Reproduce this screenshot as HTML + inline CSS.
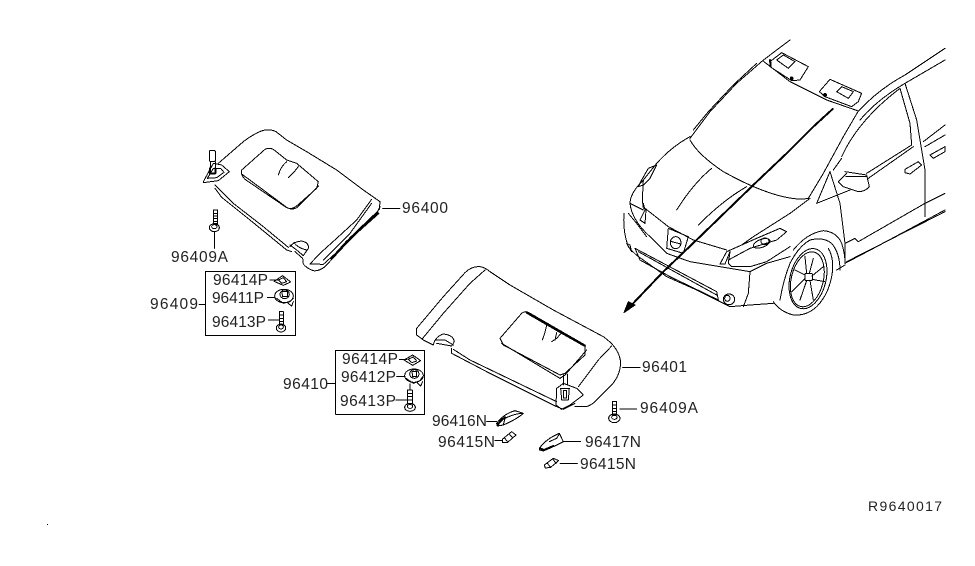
<!DOCTYPE html>
<html>
<head>
<meta charset="utf-8">
<style>
html,body{margin:0;padding:0;background:#fff;width:975px;height:566px;overflow:hidden}
svg{display:block}
.d *{vector-effect:non-scaling-stroke;fill:none;stroke:#000;stroke-width:1;stroke-linejoin:round;stroke-linecap:round;shape-rendering:crispEdges}
.d .t{stroke-width:2}
.d .b{fill:#000;stroke-width:1}
text{font-family:"Liberation Sans",sans-serif;font-size:15.5px;fill:#222}
</style>
</head>
<body>
<svg width="975" height="566" viewBox="0 0 975 566" xmlns="http://www.w3.org/2000/svg">
<rect width="975" height="566" fill="#fff"/>

<!-- Left visor -->
<g class="d" transform="translate(150,110) scale(.33333)">
<path d="M205,160 L280,95 Q320,65 345,60 Q365,58 378,65 L410,90 L470,125 L560,180 L640,240 L690,275 L688,298 L650,340 L590,400 L525,470 Q505,485 490,482 Q470,475 460,462 L458,445 L435,425"/>
<path d="M195,225 L250,280 L340,350 L415,412"/>
<path d="M195,235 L215,262 L300,330 L410,420 L425,425"/>
<path d="M275,180 L345,118 Q358,112 370,118 L410,150 L440,160 L505,215 L500,235 L440,288 Q425,300 410,293 L285,208 Q272,195 275,180"/>
<path d="M275,192 L340,240 L410,292 Q425,302 440,293 L505,228"/>
<path d="M410,155 Q392,170 385,195"/>
<path d="M445,170 Q430,190 415,203"/>
<path d="M665,268 L620,330 L560,385 L510,430 L480,462 L520,463 L590,400 L680,310 L690,290"/>
<path d="M665,280 L600,370 L520,450"/>
<path class="t" d="M685,310 L640,350 L590,395"/>
<path class="t" d="M590,395 L545,445"/>
<path class="t" d="M670,318 L600,385"/>
<path d="M420,410 Q430,395 455,393 Q478,398 475,415 L460,437 L440,420 L420,405"/>
<path d="M432,398 Q445,415 470,420"/>
<rect x="178" y="122" width="18" height="32" rx="3"/>
<path d="M182,155 L180,190 L196,190 L196,155"/>
<path class="t" d="M180,175 L180,190 L196,190 L196,175"/>
<path d="M160,215 L190,160 L215,165 L238,185 L205,212 L160,218 Z"/>
<path d="M172,205 L190,175 L212,175 L222,187 L200,203 Z"/>
<!-- 96409A screw -->
<rect x="190" y="300" width="13" height="40"/>
<path d="M190,310 H203 M190,318 H203 M190,326 H203 M190,334 H203"/>
<ellipse cx="193" cy="353" rx="15" ry="12"/><ellipse cx="193" cy="350" rx="8" ry="6"/>
<line x1="193" y1="366" x2="193" y2="415"/>
<line x1="698" y1="295" x2="750" y2="295"/>
<rect x="166" y="484" width="271" height="192"/>
<line x1="147" y1="583" x2="166" y2="583"/>
<line x1="360" y1="510" x2="385" y2="510"/>
<polygon points="372,514 398,497 422,516 400,526"/>
<path d="M385,510 L400,503 L410,515 L395,520 Z"/>
<line x1="352" y1="562" x2="375" y2="562"/>
<ellipse cx="402" cy="558" rx="28" ry="20"/>
<ellipse cx="404" cy="553" rx="14" ry="13"/>
<path d="M395,545 H412 V560 H398 Z"/>
<path d="M380,565 L400,580 L420,575 L430,565"/>
<path d="M412,578 L425,588 L430,575"/>
<line x1="355" y1="630" x2="388" y2="630"/>
<rect x="388" y="605" width="12" height="40"/>
<path d="M388,615 H400 M388,625 H400 M388,635 H400"/>
<ellipse cx="393" cy="654" rx="14" ry="12"/><ellipse cx="393" cy="651" rx="7" ry="6"/>
</g>

<!-- Right visor & parts -->
<g class="d" transform="translate(270,260) scale(.33333)">
<path d="M440,205 L520,110 L585,38 Q605,18 630,20 Q645,22 660,35 L720,75 L850,150 L1000,230 Q1050,265 1052,310 Q1050,350 1020,380 L980,420 Q960,440 945,440 L915,440"/>
<path d="M440,205 L440,225 L460,240 L490,255"/>
<path d="M458,235 L520,160 L600,70 L645,30"/>
<path d="M1025,258 L985,300 L925,380"/>
<path d="M545,265 L545,280 L650,335 L860,440 L880,448 L915,430"/>
<path d="M550,268 L600,300 L860,425"/>
<path d="M490,255 Q495,230 520,222 Q550,225 553,245 L545,258 L500,250"/>
<path d="M498,240 L525,240 L550,255"/>
<path d="M690,235 L755,160 Q765,152 775,157 L945,255 L945,285 L885,340 L870,345 L700,255 Z"/>
<path class="t" d="M770,158 L860,210 L945,258"/>
<path d="M695,250 L870,355 L885,345 L950,270"/>
<path d="M830,195 Q825,220 817,240"/>
<path d="M875,218 L860,235 L845,245"/>
<path d="M860,218 L855,240"/>
<path d="M860,385 L880,370 L920,385 L940,405 L900,435 L875,448 L858,435 Z"/>
<path d="M880,345 V375 M892,342 V375"/>
<path d="M872,385 H898 L895,420 H875 Z"/>
<rect x="880" y="392" width="10" height="22"/>
<!-- box -->
<rect x="197" y="271" width="267" height="192"/>
<line x1="172" y1="370" x2="197" y2="370"/>
<line x1="388" y1="298" x2="410" y2="298"/>
<polygon points="402,300 428,285 452,302 428,316"/>
<path d="M414,298 L430,291 L440,303 L426,308 Z"/>
<line x1="380" y1="350" x2="405" y2="350"/>
<ellipse cx="432" cy="347" rx="28" ry="20"/>
<ellipse cx="433" cy="342" rx="14" ry="13"/>
<path d="M426,335 H440 V350 H428 Z"/>
<path d="M408,355 L430,370 L450,362 L458,350"/>
<path d="M440,367 L452,378 L458,365"/>
<line x1="378" y1="420" x2="413" y2="420"/>
<rect x="413" y="390" width="14" height="40"/>
<path d="M413,400 H427 M413,410 H427 M413,420 H427"/>
<ellipse cx="420" cy="442" rx="16" ry="12"/><ellipse cx="420" cy="439" rx="8" ry="6"/>
<line x1="420" y1="372" x2="420" y2="390"/>
<!-- 96409A -->
<rect x="1027" y="425" width="13" height="40"/>
<path d="M1027,435 H1040 M1027,445 H1040 M1027,455 H1040"/>
<ellipse cx="1033" cy="475" rx="17" ry="13"/><ellipse cx="1033" cy="472" rx="8" ry="6"/>
<line x1="1050" y1="447" x2="1100" y2="447"/>
<line x1="1058" y1="323" x2="1110" y2="323"/>
<!-- 96416N -->
<line x1="650" y1="484" x2="680" y2="484"/>
<path d="M680,490 Q700,462 735,452 L760,460 Q740,478 700,495 L682,498 Z"/>
<path class="t" d="M682,495 L695,480 L705,472"/>
<path d="M700,495 L705,475 Q735,460 760,460"/>
<!-- 96415N left -->
<line x1="675" y1="542" x2="697" y2="542"/>
<polygon points="697,538 725,515 738,525 712,548 698,548"/>
<line x1="718" y1="522" x2="728" y2="534"/>
<line x1="705" y1="535" x2="712" y2="545"/>
<!-- 96417N -->
<path d="M808,565 Q830,535 868,520 L880,545 L850,560 L820,573 L808,570 Z"/>
<path class="t" d="M810,565 L822,570 L850,558"/>
<path d="M838,545 L860,535 L868,522"/>
<line x1="882" y1="545" x2="932" y2="545"/>
<!-- 96415N right -->
<polygon points="823,615 850,595 866,602 842,622 826,624"/>
<line x1="832" y1="610" x2="842" y2="622"/><line x1="848" y1="597" x2="858" y2="610"/>
<line x1="870" y1="610" x2="922" y2="610"/>
</g>

<!-- Car -->
<g class="d" transform="translate(610,40) scale(.33333)">
<path d="M240,295 L300,215 L380,130 L458,62"/>
<path d="M250,270 L295,215 L370,135 L440,70"/>
<path d="M458,62 L500,30 L540,0"/>
<path d="M458,62 L540,125 L650,180 L745,213"/>
<path d="M745,213 L700,290 L640,400 L595,475"/>
<path d="M240,300 Q265,345 340,395 Q430,445 500,465 Q560,482 595,475"/>
<path d="M240,290 Q185,320 140,370 L100,420 Q60,460 60,490 L100,510"/>
<path d="M140,375 L115,385 L95,420 L85,440 L100,435 L120,415 Z"/>
<path d="M100,420 L97,480 L100,505"/>
<path d="M305,385 Q250,430 200,510"/>
<path d="M410,440 Q340,480 265,555"/>
<path d="M105,505 L175,560 L250,600 L350,630"/>
<path d="M100,490 L105,510 L90,540 L105,550 L108,510"/>
<path d="M620,490 L660,395"/>
<path d="M600,475 L540,520 L430,590 L395,615"/>
<path d="M620,490 L720,450"/>
<path d="M395,615 L350,635 L330,672 L345,672 L360,635"/>
<path d="M360,635 L355,670 L365,680 L420,680 L470,665 L540,620"/>
<path d="M355,660 L420,625 L500,600 L530,575 L510,565 L440,595 L395,615"/>
<ellipse cx="455" cy="610" rx="26" ry="12" transform="rotate(-20 455 610)"/>
<ellipse cx="465" cy="604" rx="12" ry="10"/>
<polygon points="175,565 235,590 220,640 170,625"/>
<ellipse cx="197" cy="608" rx="16" ry="18"/>
<line x1="182" y1="604" x2="212" y2="612"/>
<path d="M42,520 Q38,575 55,620 Q75,645 100,660 L170,710 L260,750 L360,800 L420,795 L490,790"/>
<path d="M60,490 Q65,540 120,590 L170,640 L240,665 L330,680 L420,695"/>
<path d="M55,520 L80,550 L110,590"/>
<path d="M420,695 L470,670 L540,650"/>
<path d="M420,695 L415,760 L400,800"/>
<polygon points="75,625 320,755 325,780 180,710 90,660"/>
<line x1="85" y1="635" x2="320" y2="765"/>
<ellipse cx="357" cy="778" rx="17" ry="16"/>
<ellipse cx="352" cy="775" rx="8" ry="9"/>
<path d="M50,610 L65,635 L60,615 Z"/>
<path d="M510,780 Q520,720 540,670 Q565,620 600,600 Q640,590 665,610 Q690,640 690,690"/>
<path d="M550,630 Q590,580 640,572 Q680,575 695,610 Q705,640 705,670"/>
<path d="M490,785 Q510,815 550,825 Q590,828 620,800 Q660,760 668,690 Q670,650 655,625"/>
<ellipse cx="594" cy="716" rx="54" ry="92" transform="rotate(14 594 716)"/>
<ellipse cx="592" cy="718" rx="48" ry="84" transform="rotate(14 592 718)"/>
<rect x="585" y="700" width="22" height="22" rx="3"/>
<path d="M598,700 L610,655 M590,700 L585,650 M606,708 L640,680 M606,718 L645,725 M600,722 L610,780 M590,722 L570,780 M585,715 L545,755 M585,705 L555,690"/>
<path d="M660,395 L690,490 L705,610 L705,670"/>
<path d="M870,145 L900,250 L905,315"/>
<path d="M885,130 L920,240 L945,390 L945,530"/>
<path d="M695,350 Q745,240 870,145"/>
<path d="M905,315 L770,400"/>
<path d="M910,320 L775,415"/>
<path d="M745,213 Q810,145 885,105 L1005,25"/>
<path d="M885,130 L1005,60"/>
<path d="M750,240 Q800,180 885,130"/>
<path d="M695,355 L670,390"/>
<path d="M940,305 L1005,255"/>
<path d="M945,320 L1005,285"/>
<polygon points="885,388 925,365 935,375 900,402 885,398"/>
<polygon points="960,345 1005,320 1005,335 970,355"/>
<path d="M705,395 L770,405 L778,440 Q765,455 745,455 L700,440 L685,425 L710,400"/>
<path d="M708,410 L770,410"/>
<path d="M705,610 L735,595 L745,605 L945,490 L1005,460"/>
<path d="M705,670 L800,620 L1005,510"/>
<path d="M710,665 L1005,515"/>
<path d="M680,690 L705,675"/>
<path d="M480,65 L515,38 L595,80 L570,120 L545,122 L480,80 Z"/>
<path d="M500,60 L520,45 L555,65 L535,85 Z"/>
<path class="t" d="M480,60 L482,78"/><circle class="b" cx="545" cy="115" r="4"/>
<path d="M628,155 L660,118 L755,160 L745,185 L725,200 L645,170 Z"/>
<path d="M680,155 L695,140 L730,155 L715,175 Z"/>
<circle class="b" cx="645" cy="165" r="5"/>
<path class="t" d="M668,207 L610,260 L530,340 L430,435 L270,590 L160,695 L60,800"/>
<polygon class="b" points="42,818 55,785 75,795"/>
</g>

<!-- Labels -->
<text x="402" y="213" textLength="46">96400</text>
<text x="171" y="262" textLength="57">96409A</text>
<text x="213" y="285" textLength="55">96414P</text>
<text x="212" y="303" textLength="52">96411P</text>
<text x="212" y="327" textLength="54">96413P</text>
<text x="150" y="309" textLength="48">96409</text>
<text x="342" y="364" textLength="56">96414P</text>
<text x="341" y="382" textLength="55">96412P</text>
<text x="340" y="406" textLength="56">96413P</text>
<text x="283" y="389" textLength="45">96410</text>
<text x="642" y="372" textLength="45">96401</text>
<text x="640" y="413" textLength="58">96409A</text>
<text x="432" y="426" textLength="55">96416N</text>
<text x="438" y="447" textLength="57">96415N</text>
<text x="585" y="447" textLength="56">96417N</text>
<text x="580" y="469" textLength="56">96415N</text>
<text x="868" y="511" textLength="74" style="font-size:14px">R9640017</text>
<rect x="47" y="524" width="1" height="1" fill="#000"/>
</svg>
</body>
</html>
